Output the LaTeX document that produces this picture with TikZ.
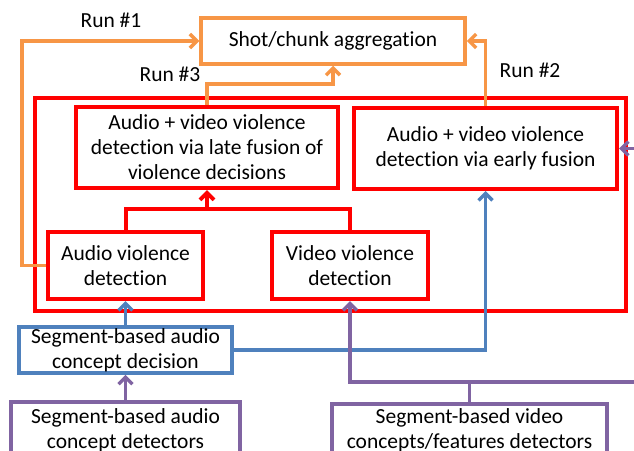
\documentclass[tikz,border=0pt]{standalone}
\usepackage{fontspec}
\setmainfont{Carlito}[Ligatures={NoCommon}]
\usetikzlibrary{arrows.meta}
\definecolor{cor}{RGB}{247,150,70}
\definecolor{cbl}{RGB}{79,129,189}
\definecolor{cpu}{RGB}{128,100,162}
\definecolor{cre}{RGB}{255,0,0}
\tikzset{
  boxbase/.style={rectangle, inner sep=0pt, align=center, font=\fontsize{21.5}{25}\selectfont, text=black},
  obox/.style={boxbase, draw=cor, line width=3.5pt},
  rbox/.style={boxbase, draw=cre, line width=4pt},
  bbox/.style={boxbase, draw=cbl, line width=3.5pt},
  pbox/.style={boxbase, draw=cpu, line width=3.5pt},
  tip/.style={-{Straight Barb[length=7pt,width=14pt]}},
  oline/.style={draw=cor, line width=3.5pt},
  rline/.style={draw=cre, line width=4pt},
  bline/.style={draw=cbl, line width=3.5pt},
  pline/.style={draw=cpu, line width=3.5pt},
  lbl/.style={font=\fontsize{21.5}{25}\selectfont, inner sep=0pt}
}
\begin{document}
\begin{tikzpicture}[x=1pt,y=-1pt]
\clip (0,0) rectangle (634,450);
\fill[white] (0,0) rectangle (634,450);
% outer red box
\node[rbox, minimum width=591, minimum height=213] (outer) at (330.5,204.5) {};
% boxes
\node[obox, minimum width=264, minimum height=46] (agg) at (333,41) {Shot/chunk aggregation};
\node[rbox, minimum width=262, minimum height=81] (late) at (207,147.5) {Audio + video violence\\detection via late fusion of\\violence decisions};
\node[rbox, minimum width=263, minimum height=81] (early) at (485.5,148.5) {Audio + video violence\\detection via early fusion};
\node[rbox, minimum width=155, minimum height=67] (aud) at (125.5,265.5) {Audio violence\\detection};
\node[rbox, minimum width=156, minimum height=67] (vid) at (350,265.5) {Video violence\\detection};
\node[bbox, minimum width=213, minimum height=46] (dec) at (125.5,350) {Segment-based audio\\concept decision};
\node[pbox, minimum width=229, minimum height=56] (adet) at (125.5,430) {Segment-based audio\\concept detectors};
\node[pbox, minimum width=275, minimum height=52] (vdet) at (469.5,430) {Segment-based video\\concepts/features detectors};
% labels
\node[lbl] (r1) at (111,20) {Run \#1};
\node[lbl] (r3) at (170,74) {Run \#3};
\node[lbl] (r2) at (530,70) {Run \#2};
% orange runs
\draw[oline, tip] (aud.west) -- (22,265.5) -- (22,41) -- (agg.west);
\draw[oline, tip] (late.north) -- ++(0,-21) -| (agg.south);
\draw[oline, tip] (early.north) |- (agg.east);
% red fusion
\coordinate (rj) at (207,209);
\draw[rline] (aud.north) |- (rj) -| (vid.north);
\draw[rline, tip] (rj) -- (late.south);
% blue
\draw[bline, tip] (dec.north) -- (aud.south);
\draw[bline, tip] (dec.east) -| (early.south);
% purple
\coordinate (pj) at (vdet.north |- 0,382);
\coordinate (pr) at (660,382);
\coordinate (pu) at (660,148.5);
\draw[pline, tip] (adet.north) -- (dec.south);
\draw[pline] (vdet.north) -- (pj);
\draw[pline, tip] (pj) -| (vid.south);
\draw[pline, tip] (pj) -- (pr) -- (pu) -- (early.east);
\end{tikzpicture}
\end{document}
